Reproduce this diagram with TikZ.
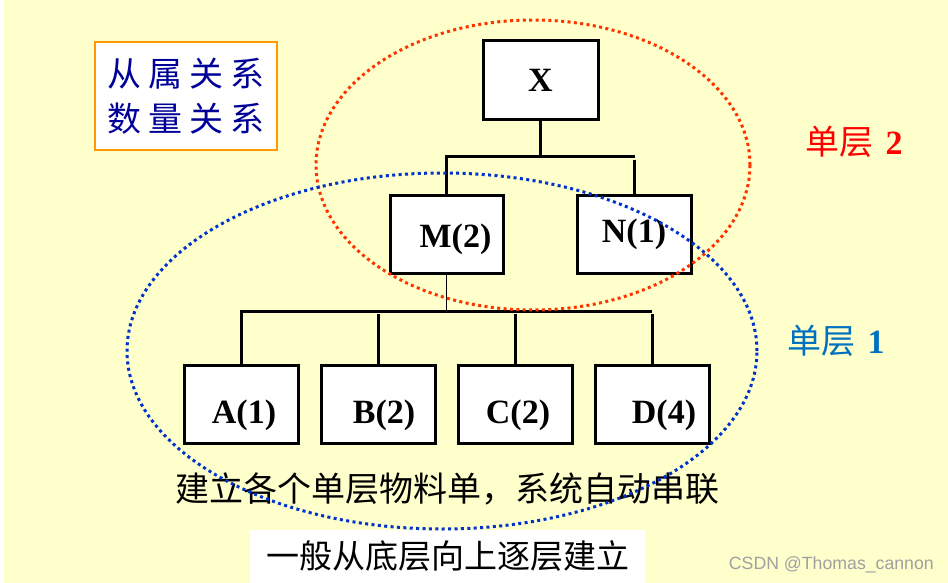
\documentclass[tikz,border=0pt]{standalone}
\usepackage{fontspec}
\setmainfont{Liberation Serif}
\newfontfamily\cjk{Noto Sans CJK SC}
\newfontfamily\wmfont{Liberation Sans}
\definecolor{bgyellow}{HTML}{FFFFCC}
\definecolor{reddot}{HTML}{FF3300}
\definecolor{bluedot}{HTML}{0033CC}
\definecolor{navy}{HTML}{000099}
\definecolor{lblblue}{HTML}{0070C0}
\definecolor{boxorange}{HTML}{FF9900}
\definecolor{wmgray}{HTML}{A0A0A0}
\begin{document}
\begin{tikzpicture}[x=1pt,y=-1pt,
  itembox/.style={draw=black,line width=3pt,fill=white,inner sep=0pt,
    minimum width=114pt,minimum height=78pt,text depth=0pt,
    font=\fontsize{34}{36}\selectfont\bfseries},
  link/.style={line width=3pt},
  thinlink/.style={line width=0.8pt},
  reddots/.style={draw=reddot,line width=3pt,dash pattern=on 3pt off 3.4pt},
  bluedots/.style={draw=bluedot,line width=3pt,dash pattern=on 3pt off 3.4pt},
  layerlabel/.style={inner sep=0pt,font=\cjk\fontsize{34}{40}\selectfont}]
\fill[bgyellow] (0,0) rectangle (948,583);
\fill[white] (0,0) rectangle (4,583);
\useasboundingbox (0,0) rectangle (948,583);

% top-left box
\node[draw=boxorange,line width=1.5pt,fill=white,minimum width=182pt,minimum height=108pt,
  inner sep=0pt,align=center,text=navy,font=\cjk\fontsize{34}{45}\selectfont]
  (rel) at (186,96) {从\hspace{7pt}属\hspace{7pt}关\hspace{7pt}系\\数\hspace{7pt}量\hspace{7pt}关\hspace{7pt}系};

% item boxes
\node[itembox,minimum width=115pt,minimum height=79pt,text height=23pt] (X) at (540.5,80.5) {X};
\node[itembox,minimum width=113pt,text height=26pt] (M) at (446.5,234) {\hspace*{18pt}M(2)};
\node[itembox,text height=17pt] (N) at (634,234) {N(1)};
\node[itembox,text height=37pt] (A) at (241,404.5) {\hspace*{6pt}A(1)};
\node[itembox,text height=37pt] (B) at (378.5,404.5) {\hspace*{11pt}B(2)};
\node[itembox,text height=37pt] (C) at (515,404.5) {\hspace*{6pt}C(2)};
\node[itembox,text height=37pt] (D) at (652,404.5) {\hspace*{24pt}D(4)};

% connectors level 2
\coordinate (b2l) at (445,157);
\coordinate (b2r) at (635,157);
\coordinate (b2n) at (634,160);
\draw[link] (X.south) -- (X.south |- b2l);
\draw[link] (b2l) -- (b2r);
\draw[link] (M.north) -- (M.north |- b2l);
\draw[link] (N.north) -- (N.north |- b2n);

% connectors level 1
\coordinate (b1l) at (240,311);
\coordinate (b1r) at (652,311);
\coordinate (b1g) at (0,314);
\draw[thinlink] (M.south) -- (M.south |- b1l);
\draw[link] (b1l) -- (b1r);
\draw[link] (A.north) -- (A.north |- b1l);
\draw[link] (B.north) -- (B.north |- b1g);
\draw[link] (C.north) -- (C.north |- b1g);
\draw[link] (D.north) -- (D.north |- b1g);

% bottom texts
\node[inner sep=0pt,font=\cjk\fontsize{34}{40}\selectfont] (t1) at (447,489) {建立各个单层物料单，系统自动串联};
\node[fill=white,minimum width=395pt,minimum height=53pt,inner sep=0pt,
  font=\cjk\fontsize{33}{40}\selectfont] (t2) at (447.5,556.5) {一般从底层向上逐层建立};

% ellipses
\draw[reddots] (533,165) ellipse [x radius=217pt,y radius=145pt];
\draw[bluedots] (442,351) ellipse [x radius=315pt,y radius=178pt];

% layer labels
\node[layerlabel,text=red] (L2) at (854,142) {单层\hspace{12pt}{\rmfamily\bfseries\fontsize{34}{36}\selectfont 2}};
\node[layerlabel,text=lblblue] (L1) at (836,341) {单层\hspace{12pt}{\rmfamily\bfseries\fontsize{34}{36}\selectfont 1}};

% watermark
\node[text=wmgray,inner sep=0pt,font=\wmfont\fontsize{17.7}{20}\selectfont,anchor=east] (wm) at (934,564.5) {CSDN @Thomas\_cannon};
\end{tikzpicture}
\end{document}
